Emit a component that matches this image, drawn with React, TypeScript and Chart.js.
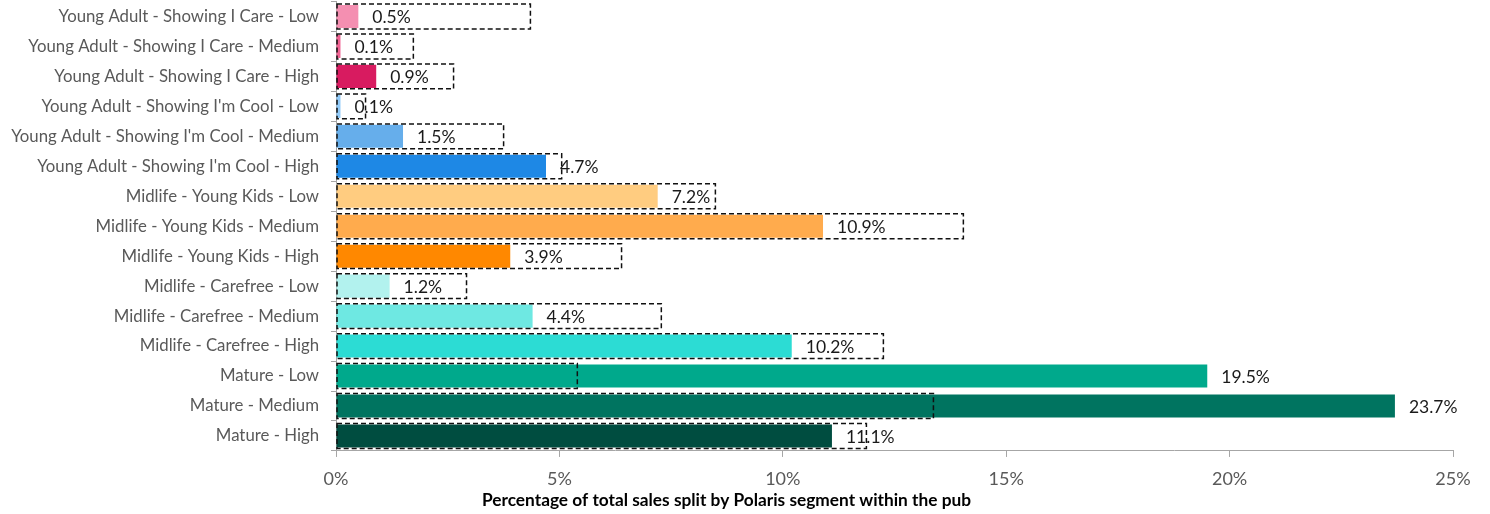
import React, { useEffect, useRef } from "react";
import { Chart, registerables } from "chart.js";

Chart.register(...registerables);

const categories: string[] = [
  "Young Adult - Showing I Care - Low",
  "Young Adult - Showing I Care - Medium",
  "Young Adult - Showing I Care - High",
  "Young Adult - Showing I'm Cool - Low",
  "Young Adult - Showing I'm Cool - Medium",
  "Young Adult - Showing I'm Cool - High",
  "Midlife - Young Kids - Low",
  "Midlife - Young Kids - Medium",
  "Midlife - Young Kids - High",
  "Midlife - Carefree - Low",
  "Midlife - Carefree - Medium",
  "Midlife - Carefree - High",
  "Mature - Low",
  "Mature - Medium",
  "Mature - High",
];

const shareValues: number[] = [0.5, 0.1, 0.9, 0.1, 1.5, 4.7, 7.2, 10.9, 3.9, 1.2, 4.4, 10.2, 19.5, 23.7, 11.1];

const benchmarkValues: number[] = [4.34, 1.72, 2.62, 0.65, 3.74, 5.04, 8.48, 14.03, 6.38, 2.91, 7.27, 12.24, 5.39, 13.36, 11.86];

const barColors: string[] = [
  "#F48FB1", "#F06292", "#D81B60",
  "#90CAF9", "#66AEEB", "#1E88E5",
  "#FFCC80", "#FFAB4D", "#FF8800",
  "#B2F2EE", "#6EE8E2", "#2CDCD4",
  "#00A98C", "#007460", "#004D40",
];

const xAxisTitle = "Percentage of total sales split by Polaris segment within the pub";
const xMin = 0;
const xMax = 25;
const xStep = 5;

const FONT = "Lato, 'Open Sans', sans-serif";

export default function App() {
  const ref = useRef<HTMLCanvasElement>(null);

  useEffect(() => {
    document.body.style.margin = "0";
    const canvas = ref.current;
    if (!canvas) return;

    const overlay = {
      id: "overlay",
      afterDatasetsDraw(chart: any) {
        const ctx = chart.ctx as CanvasRenderingContext2D;
        const fillMeta = chart.getDatasetMeta(0);
        const benchMeta = chart.getDatasetMeta(1);
        ctx.save();
        ctx.font = `17.5px ${FONT}`;
        ctx.fillStyle = "#1a1a1a";
        ctx.textBaseline = "middle";
        ctx.textAlign = "left";
        fillMeta.data.forEach((el: any, i: number) => {
          const p = el.getProps(["x", "y"], true);
          ctx.fillText(shareValues[i].toFixed(1) + "%", p.x + 14, p.y + 1);
        });
        ctx.setLineDash([5, 3]);
        ctx.lineWidth = 1.5;
        ctx.strokeStyle = "#111";
        benchMeta.data.forEach((el: any) => {
          const p = el.getProps(["x", "y", "base", "height"], true);
          ctx.strokeRect(p.base + 0.5, p.y - p.height / 2, p.x - p.base, p.height);
        });
        ctx.restore();
      },
    };

    const chart = new Chart(canvas, {
      type: "bar",
      data: {
        labels: categories,
        datasets: [
          {
            label: "Share",
            data: shareValues,
            backgroundColor: barColors,
            borderWidth: 0,
            categoryPercentage: 1,
            barPercentage: 0.77,
            grouped: false,
          } as any,
          {
            label: "Benchmark",
            data: benchmarkValues,
            backgroundColor: "rgba(0,0,0,0)",
            borderWidth: 0,
            categoryPercentage: 1,
            barPercentage: 0.83,
            grouped: false,
          } as any,
        ],
      },
      options: {
        indexAxis: "y",
        responsive: false,
        animation: false,
        devicePixelRatio: 1,
        layout: { padding: { top: 1.5, right: 37, left: 0, bottom: 0 } },
        plugins: {
          legend: { display: false },
          tooltip: { enabled: false },
          title: {
            display: true,
            position: "bottom",
            text: xAxisTitle,
            color: "#000",
            font: { family: FONT, size: 17.3, weight: "bold", lineHeight: 1.2 },
            padding: { top: 0, bottom: 3 },
          },
        },
        scales: {
          x: {
            type: "linear",
            min: xMin,
            max: xMax,
            ticks: {
              stepSize: xStep,
              callback: (v: any) => v + "%",
              color: "#595959",
              font: { family: FONT, size: 18 },
              padding: 11,
            },
            grid: { drawOnChartArea: false, drawTicks: true, tickLength: 6, color: "#a6a6a6" },
            border: { color: "#a6a6a6" },
            afterFit: (s: any) => {
              s.height = 39.3;
              s.paddingLeft = 0;
            },
          },
          y: {
            type: "category",
            ticks: {
              color: "#595959",
              font: { family: FONT, size: 16.8 },
              padding: 12,
              autoSkip: false,
            },
            grid: { drawOnChartArea: false, drawTicks: true, tickLength: 5, color: "#a6a6a6", offset: true },
            border: { color: "#a6a6a6" },
            afterFit: (s: any) => {
              s.width = 336;
              s.paddingTop = 0;
              s.paddingBottom = 0;
            },
          },
        },
      } as any,
      plugins: [overlay],
    });

    return () => chart.destroy();
  }, []);

  return (
    <div style={{ position: "absolute", left: 0, top: 0, width: 1490, height: 514, background: "#fff" }}>
      <canvas ref={ref} width={1490} height={514} style={{ display: "block" }} />
    </div>
  );
}
